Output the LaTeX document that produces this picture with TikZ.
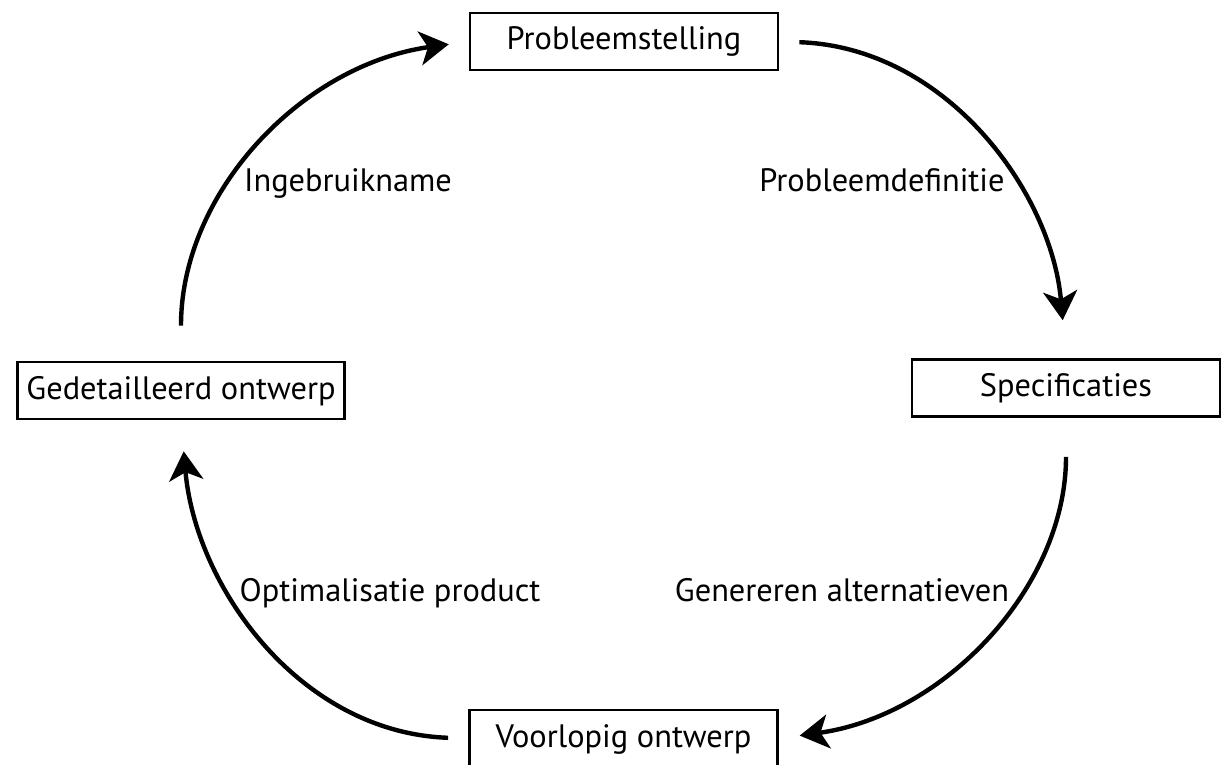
\documentclass[tikz,border=0pt]{standalone}
\usepackage{fontspec}
\setmainfont{PT Sans}
\usetikzlibrary{arrows.meta}
\begin{document}
\begin{tikzpicture}[x=1pt,y=-1pt,
  stage/.style={draw, line width=2.8pt, minimum width=308pt, minimum height=57pt,
    inner xsep=9pt, text height=24pt, text depth=7pt,
    font=\fontsize{32.4}{38}\selectfont},
  phase/.style={font=\fontsize{32.4}{38}\selectfont, anchor=base},
  flow/.style={line width=4.4pt, -{Stealth[length=29pt,width=34pt,inset=8pt]}}
]
\useasboundingbox (0,0) rectangle (1223,765);

\node[stage] (ps)   at (624,41.5)  {Probleemstelling};
\node[stage] (spec) at (1066,388)  {Specificaties};
\node[stage] (gd)   at (181,390.5) {Gedetailleerd ontwerp};
\node[stage] (vo)   at (623.5,738.5) {Voorlopig ontwerp};

\draw[flow, shorten <=35pt, shorten >=20pt] (gd.north) to[out=90,in=188] (ps.west);
\draw[flow, shorten <=20pt, shorten >=38pt] (ps.east) to[out=-2,in=95] (spec.north);
\draw[flow, shorten <=39pt, shorten >=21pt] (spec.south) to[out=-90,in=8] (vo.east);
\draw[flow, shorten <=20pt, shorten >=31pt] (vo.west) to[out=178,in=-85] (gd.south);

\node[phase] (l1) at (348,191) {Ingebruikname};
\node[phase] (l2) at (882,191) {Probleemdefinitie};
\node[phase] (l3) at (390,601) {Optimalisatie product};
\node[phase] (l4) at (842,601) {Genereren alternatieven};
\end{tikzpicture}
\end{document}
